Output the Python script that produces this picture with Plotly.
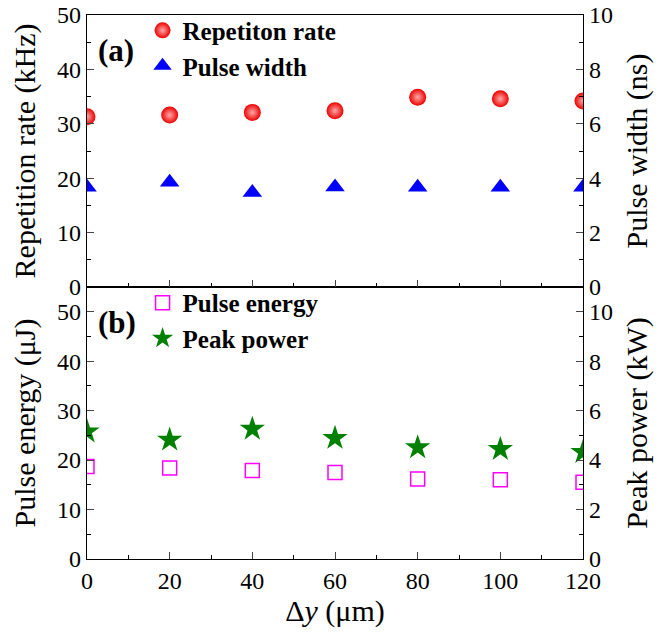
import plotly.graph_objects as go

dy = [0, 20, 40, 60, 80, 100, 120]
rep_rate = [31.3, 31.6, 32.1, 32.4, 34.9, 34.6, 34.2]
pulse_width = [3.67, 3.85, 3.47, 3.68, 3.67, 3.67, 3.67]
pulse_energy = [18.7, 18.4, 17.9, 17.5, 16.2, 16.0, 15.5]
peak_power = [5.15, 4.82, 5.26, 4.89, 4.51, 4.44, 4.32]

FONT = "Times New Roman, Liberation Serif, serif"

fig = go.Figure()

fig.add_trace(go.Scatter(x=dy, y=rep_rate, mode="markers", name="Repetiton rate",
                         xaxis="x2", yaxis="y3", legend="legend",
                         marker=dict(symbol="circle", size=17, color="#ee0000",
                                     gradient=dict(type="radial", color="#ffaaaa"),
                                     line=dict(width=0))))
fig.add_trace(go.Scatter(x=dy, y=pulse_width, mode="markers", name="Pulse width",
                         xaxis="x2", yaxis="y4", legend="legend",
                         marker=dict(symbol="triangle-up", size=17, color="#0000ff",
                                     line=dict(width=0))))
fig.add_trace(go.Scatter(x=dy, y=pulse_energy, mode="markers", name="Pulse energy",
                         xaxis="x", yaxis="y", legend="legend2",
                         marker=dict(symbol="square-open", size=14, color="#ff00ff",
                                     line=dict(width=1.5))))
fig.add_trace(go.Scatter(x=dy, y=peak_power, mode="markers", name="Peak power",
                         xaxis="x", yaxis="y2", legend="legend2",
                         marker=dict(symbol="star", size=19, color="#008000",
                                     line=dict(width=0))))

tickfont = dict(family=FONT, size=24, color="black")
titlefont = dict(family=FONT, size=30, color="black")
common_x = dict(range=[0, 120], dtick=20, ticks="inside", ticklen=7, tickwidth=1.3,
                showline=True, linecolor="black", linewidth=1.3, showgrid=False,
                zeroline=False, tickfont=tickfont, automargin=False,
                minor=dict(ticks="inside", ticklen=4, dtick=10, tickcolor="black"))
common_y = dict(ticks="inside", ticklen=7, tickwidth=1.3, showline=True,
                linecolor="black", linewidth=1.3, showgrid=False, zeroline=False,
                tickfont=tickfont, automargin=False)

fig.update_layout(
    width=670, height=632,
    margin=dict(l=87, r=87, t=15, b=73, autoexpand=False),
    plot_bgcolor="white", paper_bgcolor="white",
    font=dict(family=FONT, color="black"),
    xaxis=dict(**common_x, domain=[0, 1], anchor="y", mirror=True,
               title=dict(text="Δ<i>y</i> (μm)", font=titlefont, standoff=2)),
    xaxis2=dict(**common_x, domain=[0, 1], anchor="y3", mirror=True,
                showticklabels=False, matches="x"),
    yaxis=dict(**common_y, domain=[0, 0.5], anchor="x", range=[0, 55], dtick=10,
               minor=dict(ticks="inside", ticklen=4, dtick=5, tickcolor="black"),
               title=dict(text="Pulse energy (μJ)", font=titlefont, standoff=12)),
    yaxis2=dict(**common_y, domain=[0, 0.5], anchor="x", overlaying="y", side="right",
                range=[0, 11], dtick=2,
                minor=dict(ticks="inside", ticklen=4, dtick=1, tickcolor="black"),
                title=dict(text="Peak power (kW)", font=titlefont, standoff=14)),
    yaxis3=dict(**common_y, domain=[0.5, 1], anchor="x2", range=[0, 50], dtick=10,
                minor=dict(ticks="inside", ticklen=4, dtick=5, tickcolor="black"),
                title=dict(text="Repetition rate (kHz)", font=titlefont, standoff=12)),
    yaxis4=dict(**common_y, domain=[0.5, 1], anchor="x2", overlaying="y3", side="right",
                range=[0, 10], dtick=2,
                minor=dict(ticks="inside", ticklen=4, dtick=1, tickcolor="black"),
                title=dict(text="Pulse width (ns)", font=titlefont, standoff=14)),
    legend=dict(x=0.112, y=0.988, yref="container", xanchor="left", yanchor="top",
                bgcolor="rgba(0,0,0,0)", tracegroupgap=0,
                font=dict(family=FONT, size=25, color="black", weight="bold")),
    legend2=dict(x=0.112, y=0.557, yref="container", xanchor="left", yanchor="top",
                 bgcolor="rgba(0,0,0,0)", tracegroupgap=0,
                 font=dict(family=FONT, size=25, color="black", weight="bold")),
    annotations=[
        dict(text="<b>(a)</b>", x=0.018, y=0.935, xref="paper", yref="paper",
             showarrow=False, font=dict(family=FONT, size=31, color="black"),
             xanchor="left", yanchor="middle"),
        dict(text="<b>(b)</b>", x=0.018, y=0.435, xref="paper", yref="paper",
             showarrow=False, font=dict(family=FONT, size=31, color="black"),
             xanchor="left", yanchor="middle"),
    ],
)

fig.write_html("out.html")
